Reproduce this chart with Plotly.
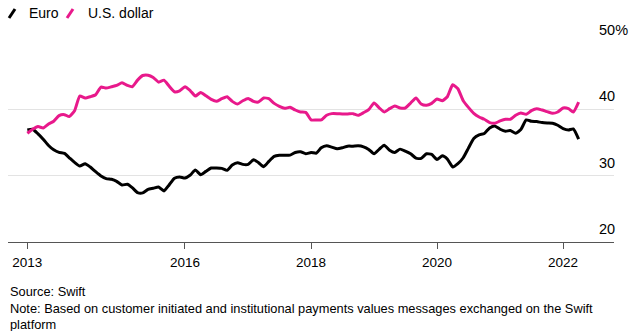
import pandas as pd
import plotly.graph_objects as go

# Monthly observations, Jul 2013 .. Apr 2022 (share of payments, %)
start_month = "2013-07-01"
n_months = 106
months = pd.date_range(start_month, periods=n_months, freq="MS")

euro = [
    36.9, 37.0, 36.3, 35.5, 34.55, 33.9, 33.5, 33.35, 32.7, 32.0,
    31.45, 31.8, 31.3, 30.6, 29.95, 29.55, 29.45, 29.15, 28.6, 28.7,
    28.2, 27.45, 27.4, 27.95, 28.1, 28.3, 27.7, 28.6, 29.6, 29.8,
    29.65, 30.1, 30.85, 30.15, 30.65, 31.15, 31.15, 31.1, 30.8, 31.6,
    31.95, 31.7, 31.7, 32.4, 32.0, 31.35, 32.15, 32.9, 33.07, 33.07,
    33.1, 33.5, 33.6, 33.3, 33.5, 33.4, 34.2, 34.5, 34.3, 34.05,
    34.2, 34.45, 34.45, 34.5, 34.35, 33.95, 33.3, 34.0, 34.6, 33.85,
    33.5, 34.0, 33.7, 33.3, 32.65, 32.6, 33.3, 33.2, 32.45, 33.0,
    32.5, 31.3, 31.8, 32.7, 34.15, 35.6, 36.15, 36.35, 37.2, 37.5,
    37.0, 36.7, 36.8, 36.4, 36.95, 38.4, 38.2, 38.15, 38.0, 37.94,
    37.9, 37.6, 37.1, 36.9, 37.05, 35.5,
]

usd = [
    36.4, 37.0, 37.4, 37.2, 37.8, 38.2, 39.05, 39.2, 38.9, 39.8,
    42.0, 41.7, 41.9, 42.2, 43.35, 43.2, 43.4, 43.6, 44.0, 43.6,
    43.4, 44.4, 45.1, 45.15, 44.8, 44.1, 44.4, 43.5, 42.65, 42.8,
    43.4, 42.8, 42.0, 42.55, 42.05, 41.5, 41.2, 41.6, 41.9, 41.2,
    40.8, 41.3, 41.65, 41.2, 41.1, 41.7, 41.6, 40.9, 40.45, 40.15,
    40.3, 39.9, 39.6, 39.55, 38.4, 38.4, 38.4, 39.1, 39.35, 39.35,
    39.3, 39.3, 39.35, 39.1, 39.5, 39.95, 40.95, 40.2, 39.6, 40.1,
    40.5, 40.2, 40.2, 40.95, 41.7, 40.8, 40.6, 40.9, 41.55, 41.3,
    41.9, 43.7, 43.1, 41.3, 40.3, 39.4, 38.85, 38.5, 38.0, 37.9,
    38.25, 38.5, 38.5, 39.1, 39.45, 39.25, 39.8, 40.1, 39.9, 39.65,
    39.4, 39.6, 40.2, 40.1, 39.6, 41.1,
]

series_names = ["Euro", "U.S. dollar"]
series_colors = ["#000000", "#e8198b"]

tick_dates = ["2013-07-01", "2016-01-01", "2018-01-01", "2020-01-01", "2022-01-01"]
tick_text = ["2013", "2016", "2018", "2020", "2022"]

y_grid = [20, 30, 40, 50]
y_labels = ["20", "30", "40", "50%"]

FONT = "Liberation Sans, Arial, Helvetica, sans-serif"

fig = go.Figure()
for name, vals, col in zip(series_names, [euro, usd], series_colors):
    fig.add_trace(go.Scatter(
        x=months, y=vals, name=name, mode="lines",
        line=dict(color=col, width=3, shape="spline", smoothing=0.5),
        showlegend=False, hoverinfo="skip",
    ))

fig.update_layout(
    width=644, height=331,
    margin=dict(l=8, r=30, t=43, b=89),
    paper_bgcolor="white", plot_bgcolor="white",
    font=dict(family=FONT, size=14, color="#000000"),
    xaxis=dict(
        type="date",
        range=["2013-03-11", "2022-10-23"],
        tickvals=tick_dates, ticktext=tick_text,
        showgrid=False, zeroline=False,
        showline=True, linecolor="#555555", linewidth=1,
        ticks="outside", ticklen=6, tickcolor="#555555", tickwidth=1,
        ticklabelstandoff=2,
        tickfont=dict(family=FONT, size=13.5, color="#000000"),
    ),
    yaxis=dict(
        range=[20, 50], tickvals=[30, 40, 50],
        showticklabels=False, ticks="",
        showgrid=True, gridcolor="#e3e3e3", gridwidth=1,
        zeroline=False, showline=False,
    ),
)

# y-axis labels above grid lines on the right
for v, lab in zip(y_grid, y_labels):
    fig.add_annotation(
        x=(597 - 8) / 606, xref="paper", xanchor="left",
        y=v, yref="y", yanchor="middle", yshift=13,
        text=lab, showarrow=False,
        font=dict(family=FONT, size=14.5, color="#000000"),
    )

# legend (slashes + labels)
legend_items = [
    (0.0017, 0.0116, 0.0314, series_colors[0], series_names[0]),
    (0.0974, 0.1073, 0.1287, series_colors[1], series_names[1]),
]
for x0, x1, xt, col, lab in legend_items:
    fig.add_shape(type="line", xref="paper", yref="paper",
                  x0=x0, y0=1.1256, x1=x1, y1=1.1709,
                  line=dict(color=col, width=3))
    fig.add_annotation(x=xt, y=1.151, xref="paper", yref="paper",
                       xanchor="left", yanchor="middle", text=lab,
                       showarrow=False,
                       font=dict(family=FONT, size=14, color="#000000"))

fig.add_annotation(
    x=0, y=-0.2, xref="paper", yref="paper", xanchor="left", yanchor="top",
    align="left", showarrow=False,
    text="Source: Swift<br>Note: Based on customer initiated and institutional payments values messages exchanged on the Swift<br>platform",
    font=dict(family=FONT, size=12.8, color="#000000"),
)

fig.write_html("out.html")
